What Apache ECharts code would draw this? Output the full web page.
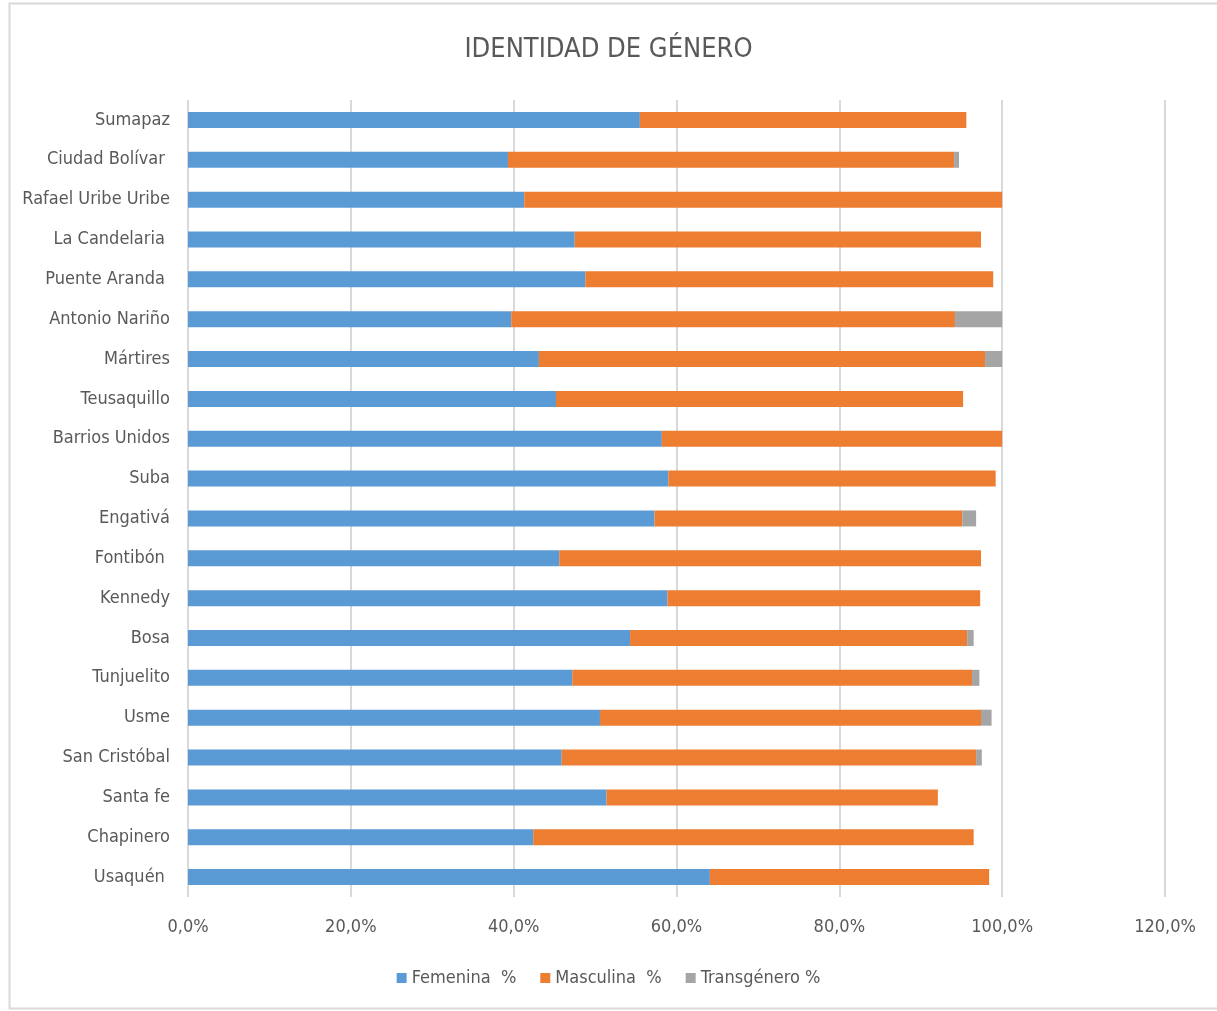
<!DOCTYPE html>
<html>
<head>
<meta charset="utf-8">
<script src="https://cdn.jsdelivr.net/npm/echarts@6/dist/echarts.min.js"></script>
<style>
  html, body { margin: 0; padding: 0; background: #fff; }
  #chart { width: 1217px; height: 1011px; }
</style>
</head>
<body>
<div id="chart"></div>
<script>
// top to bottom, as in the picture
const localidades = ['Sumapaz', 'Ciudad Bolívar ', 'Rafael Uribe Uribe', 'La Candelaria ', 'Puente Aranda ',
  'Antonio Nariño', 'Mártires', 'Teusaquillo', 'Barrios Unidos', 'Suba', 'Engativá', 'Fontibón ',
  'Kennedy', 'Bosa', 'Tunjuelito', 'Usme', 'San Cristóbal', 'Santa fe', 'Chapinero', 'Usaquén '];

const femenina = [55.5, 39.3, 41.3, 47.5, 48.8, 39.7, 43.1, 45.2, 58.2, 59.0,
  57.3, 45.6, 58.9, 54.3, 47.2, 50.6, 45.9, 51.4, 42.4, 64.1];
const masculina = [40.1, 54.8, 58.7, 49.9, 50.1, 54.5, 54.8, 50.0, 41.8, 40.2,
  37.8, 51.8, 38.4, 41.4, 49.1, 46.8, 50.9, 40.7, 54.1, 34.3];
const transgenero = [0, 0.6, 0, 0, 0, 5.8, 2.1, 0, 0, 0,
  1.7, 0, 0, 0.8, 0.9, 1.3, 0.7, 0, 0, 0];

const seriesNames = ['Femenina  %', 'Masculina  %', 'Transgénero %'];
const colors = ['#5B9BD5', '#ED7D31', '#A5A5A5'];

const fontName = '"DejaVu Sans Condensed", "DejaVu Sans", sans-serif';
const textColor = '#595959';

function makeSeries(name, data) {
  return {
    name: name,
    type: 'bar',
    stack: 'total',
    barWidth: 16,
    data: data
  };
}

var myChart = echarts.init(document.getElementById('chart'));

var option = {
  animation: false,
  color: colors,
  title: {
    text: 'IDENTIDAD DE GÉNERO',
    left: 'center',
    top: 31,
    textStyle: { fontFamily: fontName, fontWeight: 'normal', fontSize: 27, color: textColor }
  },
  graphic: [{
    type: 'rect',
    shape: { x: 9.5, y: 3.5, width: 1215, height: 1005 },
    style: { fill: 'none', stroke: '#d9d9d9', lineWidth: 2 },
    silent: true
  }],
  legend: {
    data: seriesNames,
    bottom: 19,
    left: 'center',
    itemWidth: 10,
    itemHeight: 10,
    itemGap: 24,
    icon: 'rect',
    textStyle: { fontFamily: fontName, fontSize: 18, color: textColor }
  },
  grid: { left: 188, right: 52, top: 100, bottom: 114 },
  xAxis: {
    type: 'value',
    min: 0,
    max: 120,
    interval: 20,
    axisLine: { show: false },
    axisTick: { show: false },
    splitLine: { lineStyle: { color: '#d9d9d9', width: 2 } },
    axisLabel: {
      margin: 21,
      fontFamily: fontName,
      fontSize: 18,
      color: textColor,
      formatter: function (v) { return v.toFixed(1).replace('.', ',') + '%'; }
    }
  },
  yAxis: {
    type: 'category',
    inverse: true,
    data: localidades,
    axisLine: { show: false },
    axisTick: { show: false },
    axisLabel: { margin: 18, fontFamily: fontName, fontSize: 18, color: textColor }
  },
  series: [
    makeSeries(seriesNames[0], femenina),
    makeSeries(seriesNames[1], masculina),
    makeSeries(seriesNames[2], transgenero)
  ]
};

myChart.setOption(option);
</script>
</body>
</html>
